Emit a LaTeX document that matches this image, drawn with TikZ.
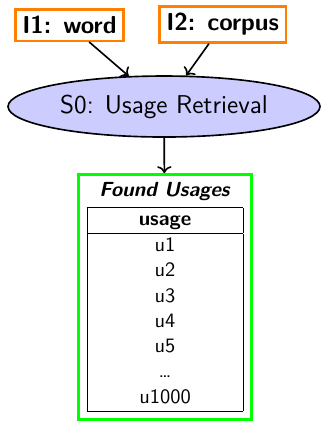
\documentclass[tikz,border=0pt]{standalone}
\usepackage{fontspec}
\usepackage{array}
\usepackage[dvipsnames]{xcolor}
\usepackage{tikz}
\usetikzlibrary{shapes}
\usetikzlibrary{arrows.meta,arrows}
\renewcommand{\familydefault}{\sfdefault}
\renewcommand{\arraystretch}{1.03}
\tikzset{
  inbox/.style={draw=orange, very thick, fill=white, font=\large\bfseries},
  stepnode/.style={ellipse, draw, thick, fill=blue!20, inner sep=0pt,
    minimum width=5.366cm, minimum height=1.049cm, font=\fontsize{12.6}{15}\selectfont},
  outbox/.style={draw=green, very thick, align=center, inner sep=4pt},
  flow/.style={thick,->}
}

\begin{document}
\begin{tikzpicture}

\useasboundingbox (0,0) rectangle (5.538,-7.241);

% Inputs
\node[inbox] (word)   at (1.195,-0.43)  {I1: word};
\node[inbox] (corpus) at (3.830,-0.421) {I2: corpus};

% Step
\node[stepnode] (retrieval) at (2.821,-1.832) {S0: Usage Retrieval};

% Output
\node[outbox] (usages) at (2.838,-5.108) {\textbf{\textit{Found Usages}}\\[2pt]
  \begin{tabular}{|>{\centering\arraybackslash}p{2.25cm}|}
  \hline
  \textbf{usage}\\ \hline
  u1\\
  u2\\
  u3\\
  u4\\
  u5\\
  \dots\\
  u1000\\ \hline
  \end{tabular}};

% Arrows
\draw[flow] (word)      -- (retrieval);
\draw[flow] (corpus)    -- (retrieval);
\draw[flow] (retrieval) -- (usages);

\end{tikzpicture}
\end{document}
